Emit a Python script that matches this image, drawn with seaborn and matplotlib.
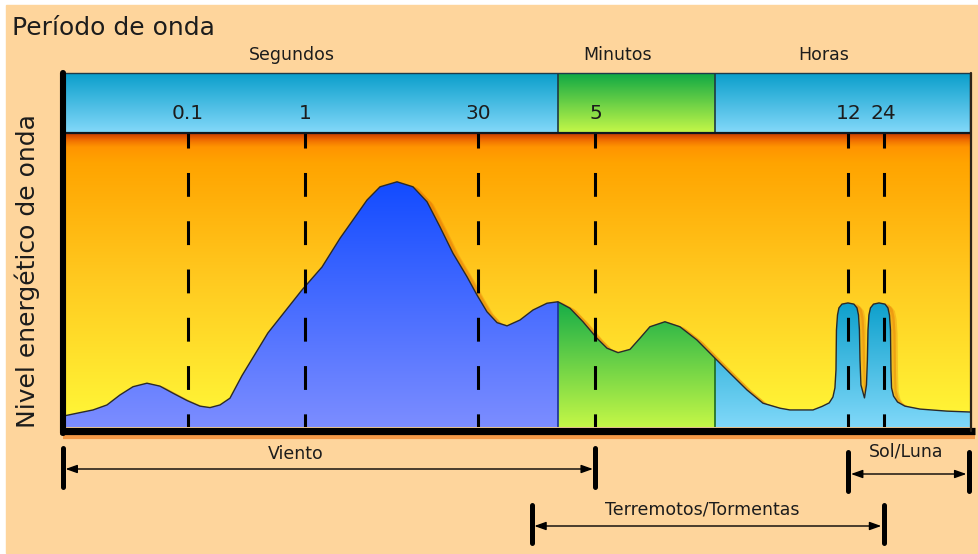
import numpy as np
import pandas as pd
import matplotlib
matplotlib.use('Agg')
import matplotlib.pyplot as plt
import matplotlib.transforms as mtransforms
from matplotlib.colors import LinearSegmentedColormap
from matplotlib.patches import Rectangle
import seaborn as sns

# curva de energía: periodo en log10(segundos), energía en % de la altura del gráfico
log_periodo = [-2.064, -1.919, -1.808, -1.689, -1.578, -1.467, -1.348, -1.237, -1.126, -1.006,
               -0.896, -0.810, -0.725, -0.640, -0.537, -0.316, -0.026, 0.145, 0.299, 0.409,
               0.529, 0.640, 0.785, 0.921, 1.041, 1.151, 1.262, 1.382, 1.467, 1.552,
               1.638, 1.723, 1.834, 1.945, 2.064, 2.158, 2.260, 2.371, 2.490, 2.576,
               2.670, 2.772, 2.857, 2.942, 3.070, 3.198, 3.343, 3.497, 3.625, 3.770,
               3.906, 4.051, 4.136, 4.333, 4.410, 4.471, 4.503, 4.520, 4.529, 4.533,
               4.542, 4.554, 4.580, 4.631, 4.682, 4.708, 4.721, 4.729, 4.734, 4.742,
               4.772, 4.789, 4.797, 4.802, 4.810, 4.823, 4.849, 4.896, 4.947, 4.972,
               4.985, 4.994, 4.998, 5.003, 5.020, 5.054, 5.117, 5.245, 5.475, 5.672]
energia = [3.7, 4.9, 5.8, 7.5, 10.9, 13.7, 14.9, 13.9, 11.5, 9.0,
           7.1, 6.6, 7.5, 9.8, 17.5, 32.0, 46.6, 54.4, 64.2, 70.4,
           77.2, 81.7, 83.4, 81.7, 76.6, 68.1, 59.1, 51.1, 44.9, 39.2,
           35.5, 34.4, 36.4, 39.8, 42.1, 42.6, 40.4, 35.8, 30.2, 26.8,
           25.3, 26.4, 30.2, 34.1, 35.8, 34.1, 29.6, 23.4, 18.3, 12.6,
           8.1, 6.4, 5.8, 5.8, 7.0, 8.2, 10.2, 13.3, 19.4, 33.0,
           38.1, 40.5, 41.8, 42.2, 41.8, 40.5, 38.1, 33.0, 22.8, 14.3,
           9.9, 14.3, 22.8, 33.0, 38.1, 40.5, 41.8, 42.2, 41.8, 40.5,
           38.1, 33.0, 19.4, 13.3, 10.5, 8.5, 7.1, 6.1, 5.4, 5.1]

marcas_s = [0.1, 1, 30, 300, 43200, 86400]
marcas_txt = ['0.1', '1', '30', '5', '12', '24']

bandas = ['Segundos', 'Minutos', 'Horas']
bordes_s = [0.00863, 144, 3140, 4.7e5]

fenomenos = ['Viento', 'Terremotos/Tormentas', 'Sol/Luna']
inicio_s = [0.00863, 86, 43200]
fin_s = [300, 86400, 4.6e5]

df = pd.DataFrame({'log_periodo': log_periodo, 'energia': energia})

sns.set_theme(style='white')
plt.rcParams['font.family'] = ['DejaVu Sans']
TXT = '#1c1c1c'

W, H = 979, 554
fig = plt.figure(figsize=(W / 100, H / 100), dpi=100)
fig.patch.set_facecolor('white')


def ejes_px(x0, y0, x1, y1):
    return fig.add_axes([x0 / W, 1 - y1 / H, (x1 - x0) / W, (y1 - y0) / H])


def degradado(nombre, colores):
    return LinearSegmentedColormap.from_list(nombre, colores)


cmap_fondo = degradado('fondo', [(0, '#FFF838'), (0.5, '#FFCA20'), (0.9, '#FFA400'),
                                 (0.955, '#FF9400'), (0.98, '#EE6A00'), (1, '#C83C00')])
cmap_seg = degradado('seg', ['#7C8DFF', '#0A46FF'])
cmap_min = degradado('min', ['#C4F746', '#14AC48'])
cmap_hor = degradado('hor', ['#80D8F9', '#0B9FCB'])
cmap_banda = degradado('banda', ['#84D9FA', '#0A9ECB'])
cmap_banda_min = degradado('banda_min', ['#C6F848', '#0FA844'])

grad = np.linspace(0, 1, 256).reshape(-1, 1)
bordes = np.log10(bordes_s)
xlim = (bordes[0], bordes[-1])
b1, b2 = bordes[1], bordes[2]

# fondo melocotón
ax_bg = ejes_px(0, 0, W, H)
ax_bg.set_xlim(0, W)
ax_bg.set_ylim(H, 0)
ax_bg.axis('off')
ax_bg.add_patch(Rectangle((6, 5), W - 6, H - 6, color='#FED59C'))

# gráfico principal
ax = ejes_px(63, 133, 970, 427)
ax.imshow(grad, extent=[*xlim, 0, 100], origin='lower', aspect='auto', cmap=cmap_fondo, zorder=0)

# sombra suave de la curva
for dx, dy, a in [(5, -4, 0.25), (3, -2.5, 0.35)]:
    sombra = mtransforms.offset_copy(ax.transData, fig=fig, x=dx, y=dy, units='dots')
    ax.plot(df.log_periodo, df.energia, color='#E06A00', lw=3, alpha=a,
            transform=sombra, zorder=0.5)

poly = ax.fill_between(df.log_periodo, 0, df.energia, facecolor='none', edgecolor='none')
clip = poly.get_paths()[0]
regiones = [(xlim[0], b1, 90, cmap_seg), (b1, b2, 43, cmap_min), (b2, xlim[1], 43, cmap_hor)]
for a, b, tope, cm in regiones:
    im = ax.imshow(grad, extent=[a, b, 0, tope], origin='lower', aspect='auto', cmap=cm, zorder=1)
    im.set_clip_path(clip, transform=ax.transData)
for b, c in [(b1, '#1b2f9a'), (b2, '#1d6b20')]:
    ln = ax.axvline(b, color=c, lw=1.2, zorder=2)
    ln.set_clip_path(clip, transform=ax.transData)
sns.lineplot(data=df, x='log_periodo', y='energia', ax=ax, color='#2a2a2a', lw=1.0,
             sort=False, estimator=None, zorder=3)
for t in marcas_s:
    ax.axvline(np.log10(t), color='black', lw=2.2, linestyle=(3.5, (7.8, 8.0)), zorder=4)
ax.set_xlim(*xlim)
ax.set_ylim(0, 100)
ax.axis('off')

# banda superior de escalas
ax_b = ejes_px(63, 73, 970, 133)
ax_b.imshow(grad, extent=[*xlim, 0, 1], origin='lower', aspect='auto', cmap=cmap_banda)
ax_b.imshow(grad, extent=[b1, b2, 0, 1], origin='lower', aspect='auto', cmap=cmap_banda_min)
for b in (b1, b2):
    ax_b.axvline(b, color='#1e3a40', lw=1.2)
ax_b.set_xlim(*xlim)
ax_b.set_ylim(0, 1)
ax_b.set_xticks([])
ax_b.set_yticks([])
for s in ax_b.spines.values():
    s.set_visible(True)
    s.set_color('#1e3a48')
    s.set_linewidth(1.0)
ax_b.spines['bottom'].set_color('#101820')
ax_b.spines['bottom'].set_linewidth(1.6)
for t, txt in zip(marcas_s, marcas_txt):
    ax_b.text(np.log10(t), 0.233, txt, ha='center', va='baseline', fontsize=14.5, color=TXT)
for i, nombre in enumerate(bandas):
    centro = (bordes[i] + bordes[i + 1]) / 2 - 0.16
    ax_b.text(centro, 1.217, nombre, ha='center', va='baseline', fontsize=12.5,
              color=TXT, clip_on=False)

# rangos de fenómenos
ax_a = ejes_px(63, 436, 970, 554)
ax_a.set_xlim(*xlim)
ax_a.set_ylim(554, 436)
ax_a.axis('off')
filas = [(448, 487, 469), (505, 543, 526), (452, 491, 474)]
for ini, fin, (y0, y1, yf) in zip(inicio_s, fin_s, filas):
    xa, xb = np.log10(ini), np.log10(fin)
    ax_a.vlines([xa, xb], y0, y1, color='black', lw=3.6, capstyle='round', clip_on=False)
    ax_a.annotate('', xy=(xb, yf), xytext=(xa, yf), annotation_clip=False,
                  arrowprops=dict(arrowstyle='<|-|>,head_length=0.7,head_width=0.25',
                                  color='black', lw=1.0, shrinkA=1.8, shrinkB=1.8,
                                  mutation_scale=10))

# ejes gruesos y textos
ax_f = ejes_px(0, 0, W, H)
ax_f.set_xlim(0, W)
ax_f.set_ylim(H, 0)
ax_f.axis('off')
ax_f.plot([63, 975], [437, 437], color='#F49A48', lw=3, solid_capstyle='butt')
ax_f.plot([60, 975], [431, 431], color='black', lw=5.2, solid_capstyle='butt')
ax_f.plot([63, 63], [73, 433], color='black', lw=4.4, solid_capstyle='round')
ax_f.plot([971, 971], [73, 431], color='#2e2418', lw=1.6)

ax_f.text(12, 35, 'Período de onda', fontsize=18, ha='left', va='baseline', color=TXT)
ax_f.text(27, 271, 'Nivel energético de onda', fontsize=18, rotation=90,
          ha='center', va='center', color=TXT)
for nombre, (x, y) in zip(fenomenos, [(296, 459), (702, 515), (906, 457)]):
    ax_f.text(x, y, nombre, fontsize=12.5, ha='center', va='baseline', color=TXT)

fig.savefig('out.png', dpi=100)
